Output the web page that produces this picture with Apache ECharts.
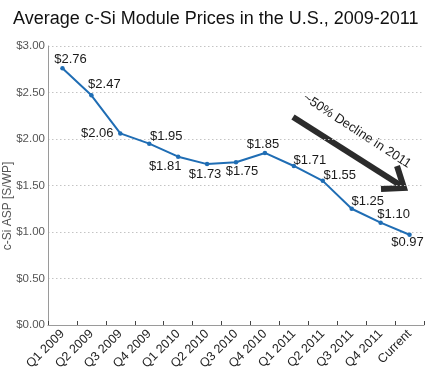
<!DOCTYPE html>
<html>
<head>
<meta charset="utf-8">
<script src="https://cdn.jsdelivr.net/npm/echarts@6/dist/echarts.min.js"></script>
<style>
html,body{margin:0;padding:0;background:#fff;}
#chart{width:430px;height:387px;}
</style>
</head>
<body>
<div id="chart"></div>
<script>
// ---- data ----
const categories = ['Q1 2009','Q2 2009','Q3 2009','Q4 2009','Q1 2010','Q2 2010','Q3 2010','Q4 2010','Q1 2011','Q2 2011','Q3 2011','Q4 2011','Current'];
const prices = [2.76, 2.47, 2.06, 1.95, 1.81, 1.73, 1.75, 1.85, 1.71, 1.55, 1.25, 1.10, 0.97];
const yTicks = [0, 0.5, 1.0, 1.5, 2.0, 2.5, 3.0];
const titleText = 'Average c-Si Module Prices in the U.S., 2009-2011';
const yAxisName = 'c-Si ASP [S/WP]';
const annotationText = '~50% Decline in 2011';

// label placement (style, not data)
const labelOffsets = [[8,-9],[13,-11],[-23,0],[17,-7],[-13,10],[-2,10],[6,9],[-2,-9],[16,-6],[17,-5],[16,-7],[13,-8],[-2,8]];

const FONT = '"Liberation Sans", Arial, sans-serif';
const chart = echarts.init(document.getElementById('chart'), null, {renderer:'canvas'});

const seriesData = prices.map((v,i)=>({
  value: v,
  label: {
    show: true,
    position: 'inside',
    offset: labelOffsets[i],
    formatter: p => '$' + p.value.toFixed(2),
    color: '#1a1a1a',
    fontSize: 13,
    fontFamily: FONT
  }
}));

const option = {
  animation: false,
  backgroundColor: '#fff',
  title: {
    text: titleText,
    left: 8,
    top: 5,
    textStyle: {fontSize: 18, fontWeight: 'normal', color: '#111', fontFamily: FONT}
  },
  grid: {left: 48, right: 6, top: 46, bottom: 62, containLabel: false},
  xAxis: {
    type: 'category',
    data: categories,
    boundaryGap: true,
    axisLine: {show: true, lineStyle: {color: '#9a9a9a', width: 1}},
    axisTick: {show: true, inside: true, length: 4, lineStyle: {color: '#444', width: 1}},
    axisLabel: {rotate: 45, margin: 7, fontSize: 12.5, color: '#222', fontFamily: FONT, interval: 0},
    splitLine: {show: false}
  },
  yAxis: {
    type: 'value',
    min: yTicks[0],
    max: yTicks[yTicks.length-1],
    interval: 0.5,
    axisLine: {show: true, lineStyle: {color: '#9a9a9a', width: 1}},
    axisTick: {show: false},
    axisLabel: {formatter: v => '$' + v.toFixed(2), fontSize: 11.5, color: '#555', fontFamily: FONT, margin: 3},
    splitLine: {show: true, lineStyle: {color: '#c4c4c4', type: [1.5, 2.5], width: 1}}
  },
  series: [{
    type: 'line',
    data: seriesData,
    symbol: 'circle',
    symbolSize: 4.5,
    showAllSymbol: true,
    lineStyle: {color: '#1f6db4', width: 2},
    itemStyle: {color: '#1f6db4'},
    z: 3
  }],
  graphic: [
    {
      type: 'text',
      x: 8, y: 206,
      rotation: Math.PI/2,
      style: {text: yAxisName, fill: '#555', font: '12px ' + FONT, align: 'center', verticalAlign: 'middle'}
    },
    {
      type: 'text',
      x: 357, y: 131,
      rotation: -33 * Math.PI/180,
      style: {text: annotationText, fill: '#1a1a1a', font: '13px ' + FONT, align: 'center', verticalAlign: 'middle'}
    },
    {
      type: 'polyline',
      shape: {points: [[293,117],[400,185]]},
      style: {stroke: '#2b2b2b', lineWidth: 6, lineCap: 'butt'}
    },
    {
      type: 'polyline',
      shape: {points: [[397,166],[404,188],[381,189]]},
      style: {stroke: '#2b2b2b', lineWidth: 6, lineJoin: 'miter', lineCap: 'butt', fill: null}
    }
  ]
};
chart.setOption(option);
</script>
</body>
</html>
